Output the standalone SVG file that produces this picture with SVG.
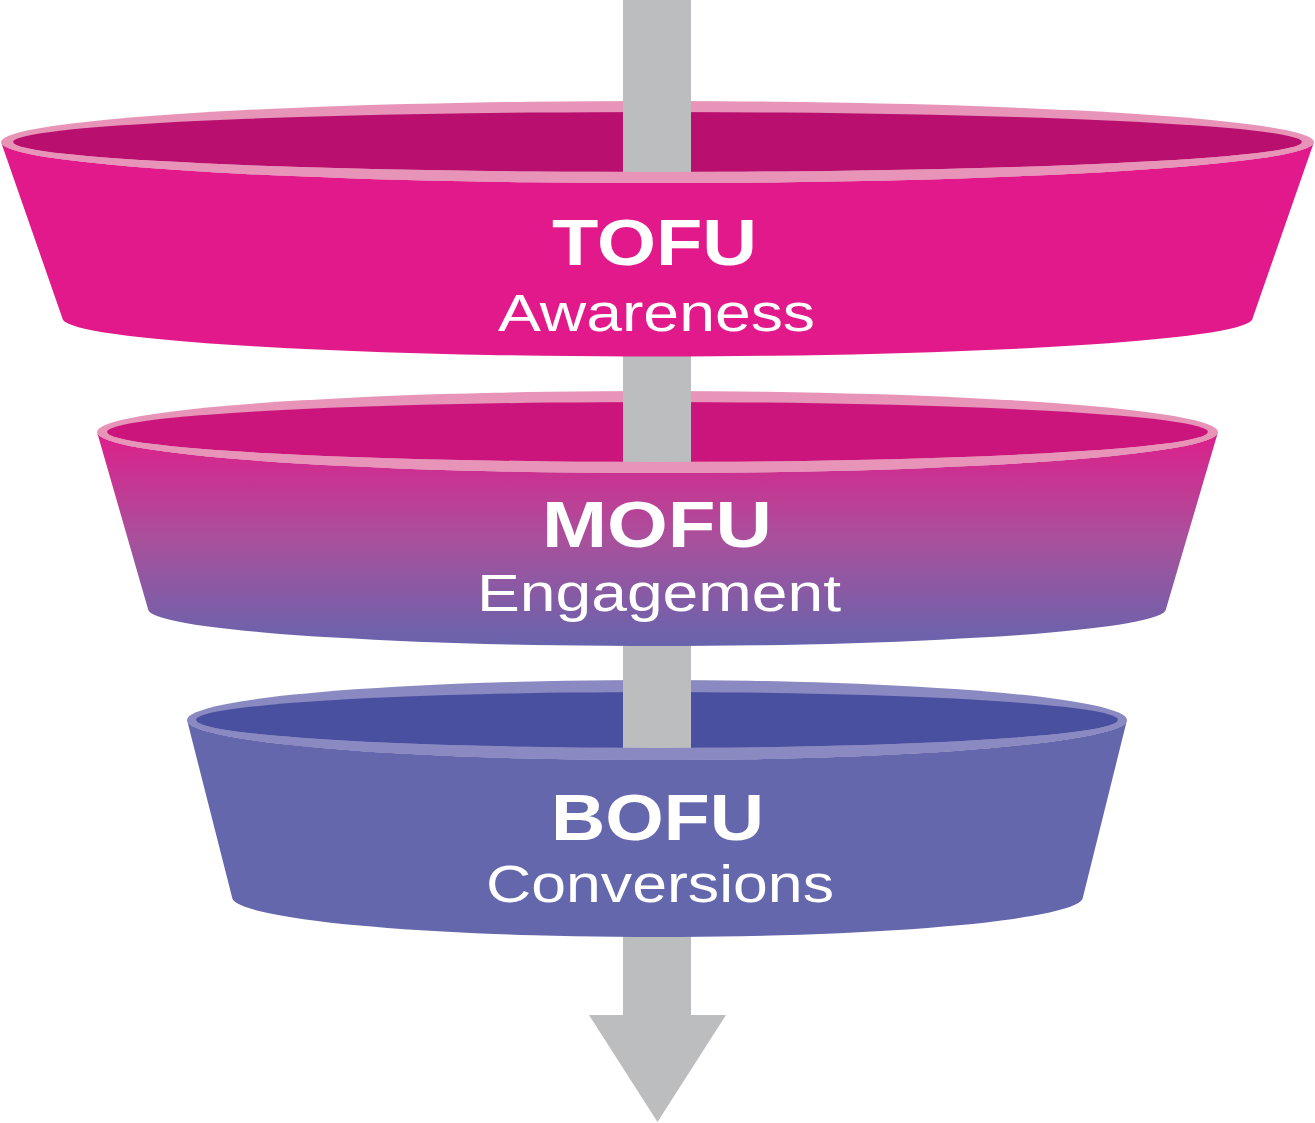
<svg xmlns="http://www.w3.org/2000/svg" width="1315" height="1123" viewBox="0 0 1315 1123">
  <style>
    .title { font-family: "Liberation Sans", Arial, sans-serif; font-weight: bold; font-size: 64px; fill: #ffffff; text-anchor: middle; }
    .sub { font-family: "Liberation Sans", Arial, sans-serif; font-size: 51px; fill: #ffffff; text-anchor: middle; }
    .arrow { fill: #bcbdbf; }
    .tofu-rim, .mofu-rim { fill: #e794b8; }
    .tofu-inner { fill: #b90f6f; }
    .tofu-body { fill: #e2198a; }
    .mofu-inner { fill: #cb157d; }
    .mofu-body { fill: url(#mofuGrad); }
    .bofu-rim { fill: #8a89c1; }
    .bofu-inner { fill: #4a50a0; }
    .bofu-body { fill: #6567ac; }
  </style>
  <defs>
    <linearGradient id="mofuGrad" gradientUnits="userSpaceOnUse" x1="0" y1="432" x2="0" y2="646">
      <stop offset="0" stop-color="#de1f8a"/>
      <stop offset="0.5" stop-color="#a9509c"/>
      <stop offset="1" stop-color="#6764ad"/>
    </linearGradient>
    <!-- back rims leave a slot so the shaft shows through the opening -->
    <clipPath id="slot">
      <path clip-rule="evenodd" d="M0,0 H1315 V1123 H0 Z M623,0 H691 V1123 H623 Z"/>
    </clipPath>
  </defs>

  <g id="connectors">
    <path class="arrow" d="M623,0 H691 V1015 H726 L657.5,1122 L589,1015 H623 Z"/>
  </g>

  <g id="tofu">
    <g clip-path="url(#slot)">
      <ellipse class="tofu-rim" cx="657.5" cy="142" rx="656.5" ry="41"/>
      <ellipse class="tofu-inner" cx="657.5" cy="142" rx="644.5" ry="30"/>
    </g>
    <path class="tofu-body" d="M1,142 A656.5,41 0 0 0 1314,142 L1252,320 A595,38 0 0 1 63,320 Z"/>
    <path class="tofu-rim" d="M1,142 A656.5,41 0 0 0 1314,142 L1302,142 A644.5,30 0 0 1 13,142 Z"/>
    <text class="title" x="654.5" y="265" textLength="205" lengthAdjust="spacingAndGlyphs">TOFU</text>
    <text class="sub" x="656.5" y="331" textLength="317" lengthAdjust="spacingAndGlyphs">Awareness</text>
  </g>

  <g id="mofu">
    <g clip-path="url(#slot)">
      <ellipse class="mofu-rim" cx="657.5" cy="432" rx="560.5" ry="41"/>
      <ellipse class="mofu-inner" cx="657.5" cy="432" rx="550.5" ry="30"/>
    </g>
    <path class="mofu-body" d="M97,432 A560.5,41 0 0 0 1218,432 L1166,609 A509,37 0 0 1 148,609 Z"/>
    <path class="mofu-rim" d="M97,432 A560.5,41 0 0 0 1218,432 L1208,432 A550.5,30 0 0 1 107,432 Z"/>
    <text class="title" x="657" y="547" textLength="230" lengthAdjust="spacingAndGlyphs">MOFU</text>
    <text class="sub" x="659" y="611" textLength="364" lengthAdjust="spacingAndGlyphs">Engagement</text>
  </g>

  <g id="bofu">
    <g clip-path="url(#slot)">
      <ellipse class="bofu-rim" cx="657" cy="720" rx="470" ry="40"/>
      <ellipse class="bofu-inner" cx="657" cy="720" rx="461" ry="28"/>
    </g>
    <path class="bofu-body" d="M187,720 A470,40 0 0 0 1127,720 L1083,897 A425.5,40 0 0 1 232,897 Z"/>
    <path class="bofu-rim" d="M187,720 A470,40 0 0 0 1127,720 L1118,720 A461,28 0 0 1 196,720 Z"/>
    <text class="title" x="657.5" y="840" textLength="213" lengthAdjust="spacingAndGlyphs">BOFU</text>
    <text class="sub" x="660" y="902" textLength="348" lengthAdjust="spacingAndGlyphs">Conversions</text>
  </g>
</svg>
